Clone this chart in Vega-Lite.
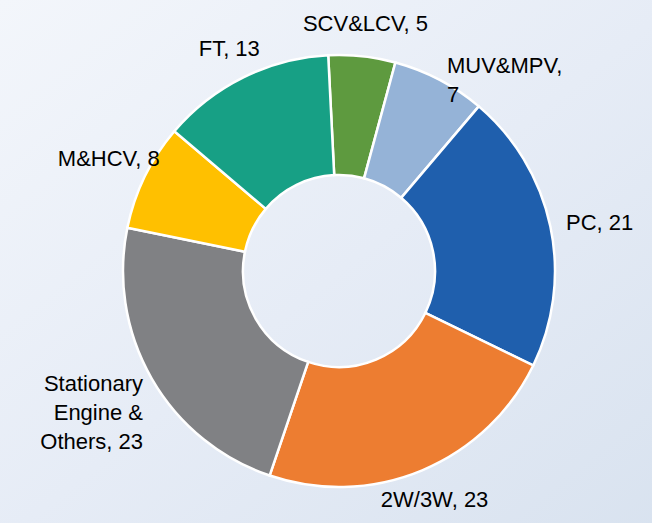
{
  "$schema": "https://vega.github.io/schema/vega-lite/v6.json",
  "autosize": {"type": "fit", "contains": "padding"},
  "width": 652,
  "height": 523,
  "padding": {"left": 0, "top": 0, "right": -26, "bottom": -19},
  "background": "#e6ecf6",
  "view": {
    "stroke": null,
    "fill": {"gradient": "linear", "x1": 0, "y1": 0, "x2": 1, "y2": 1,
      "stops": [{"offset": 0, "color": "#f3f6fb"}, {"offset": 0.5, "color": "#e6ecf6"}, {"offset": 1, "color": "#d8e2ef"}]}
  },
  "config": {
    "text": {"font": "Liberation Sans, Arial", "fontSize": 22, "color": "#000000", "lineHeight": 29}
  },
  "data": {"values": [
    {"segment": "SCV&LCV", "label": "SCV&LCV, 5", "share": 5, "idx": 1},
    {"segment": "MUV&MPV", "label": "MUV&MPV,\n7", "share": 7, "idx": 2},
    {"segment": "PC", "label": "PC, 21", "share": 21, "idx": 3},
    {"segment": "2W/3W", "label": "2W/3W, 23", "share": 23, "idx": 4},
    {"segment": "Stationary Engine & Others", "label": "Stationary\nEngine &\nOthers, 23", "share": 23, "idx": 5},
    {"segment": "M&HCV", "label": "M&HCV, 8", "share": 8, "idx": 6},
    {"segment": "FT", "label": "FT, 13", "share": 13, "idx": 7}
  ]},
  "transform": [
    {"stack": "share", "sort": [{"field": "idx", "order": "ascending"}], "groupby": [], "as": ["v0", "v1"]},
    {"calculate": "(datum.v0 + datum.v1) / 2", "as": "mid"}
  ],
  "resolve": {"scale": {"theta": "shared"}},
  "layer": [
    {
      "mark": {"type": "arc", "innerRadius": 96, "outerRadius": 216, "stroke": "#ffffff", "strokeWidth": 2.5},
      "encoding": {
        "theta": {"field": "v0", "type": "quantitative", "stack": null, "scale": {"domain": [0, 100], "range": [-0.05, 6.2332]}},
        "theta2": {"field": "v1"},
        "color": {"field": "segment", "type": "nominal", "legend": null,
          "scale": {"domain": ["SCV&LCV", "MUV&MPV", "PC", "2W/3W", "Stationary Engine & Others", "M&HCV", "FT"],
                    "range": ["#5e9a3f", "#95b3d7", "#1f5fad", "#ed7d31", "#808184", "#ffc000", "#17a085"]}}
      }
    },
    {
      "transform": [{"filter": "indexof(['SCV&LCV','FT','2W/3W'], datum.segment) >= 0"}],
      "mark": {"type": "text", "align": "center", "baseline": "middle", "radius": 248, "lineBreak": "\n"},
      "encoding": {
        "theta": {"field": "mid", "type": "quantitative", "stack": null, "scale": {"domain": [0, 100], "range": [-0.05, 6.2332]}},
        "text": {"field": "label"}
      }
    },
    {
      "transform": [{"filter": "datum.segment == 'M&HCV'"}],
      "mark": {"type": "text", "align": "center", "baseline": "middle", "radius": 256, "lineBreak": "\n"},
      "encoding": {
        "theta": {"field": "mid", "type": "quantitative", "stack": null, "scale": {"domain": [0, 100], "range": [-0.05, 6.2332]}},
        "text": {"field": "label"}
      }
    },
    {
      "transform": [{"filter": "indexof(['MUV&MPV','PC'], datum.segment) >= 0"}],
      "mark": {"type": "text", "align": "left", "baseline": "middle", "radius": 232, "lineBreak": "\n"},
      "encoding": {
        "theta": {"field": "mid", "type": "quantitative", "stack": null, "scale": {"domain": [0, 100], "range": [-0.05, 6.2332]}},
        "text": {"field": "label"}
      }
    },
    {
      "transform": [{"filter": "datum.segment == 'Stationary Engine & Others'"}],
      "mark": {"type": "text", "align": "right", "baseline": "middle", "radius": 226, "lineBreak": "\n"},
      "encoding": {
        "theta": {"field": "mid", "type": "quantitative", "stack": null, "scale": {"domain": [0, 100], "range": [-0.05, 6.2332]}},
        "text": {"field": "label"}
      }
    }
  ]
}
